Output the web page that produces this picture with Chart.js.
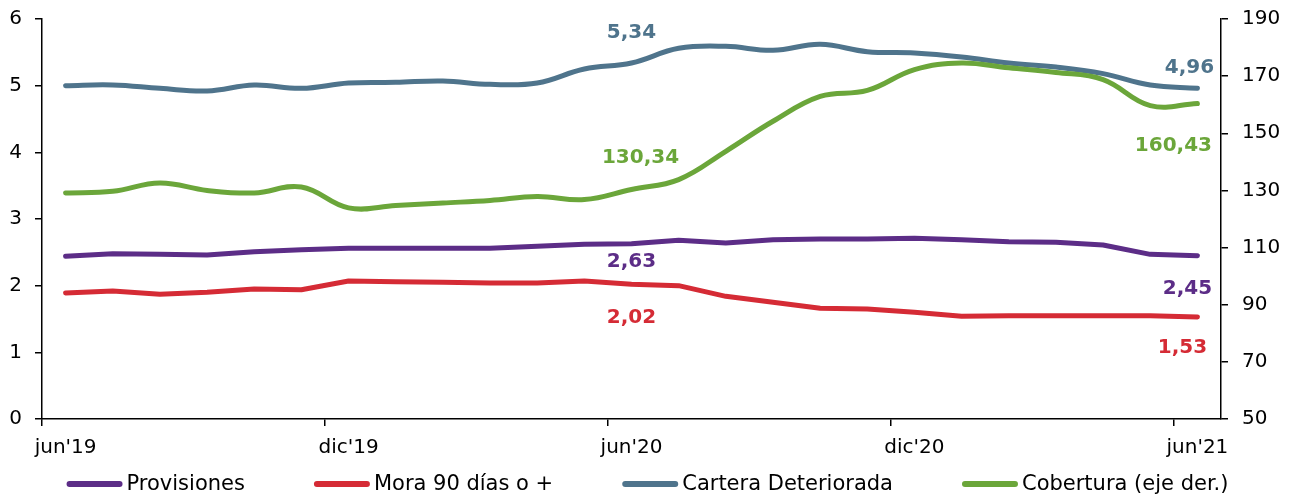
<!DOCTYPE html>
<html>
<head>
<meta charset="utf-8">
<title>Provisiones, mora, cartera deteriorada y cobertura</title>
<script src="https://cdn.jsdelivr.net/npm/chart.js@4.4.1/dist/chart.umd.min.js"></script>
<style>
  html, body { margin: 0; padding: 0; background: #fff; }
</style>
</head>
<body>
<canvas id="grafico" width="1298" height="497"></canvas>
<script>
// meses, jun'19 a jun'21
const meses = ["jun'19", "jul'19", "ago'19", "sep'19", "oct'19", "nov'19", "dic'19",
  "ene'20", "feb'20", "mar'20", "abr'20", "may'20", "jun'20", "jul'20", "ago'20",
  "sep'20", "oct'20", "nov'20", "dic'20", "ene'21", "feb'21", "mar'21", "abr'21",
  "may'21", "jun'21"];

// eje izquierdo (%)
const provisiones = [2.44, 2.48, 2.47, 2.46, 2.51, 2.54, 2.56, 2.56, 2.56, 2.56, 2.59, 2.62, 2.63,
  2.68, 2.64, 2.69, 2.70, 2.70, 2.71, 2.69, 2.66, 2.65, 2.61, 2.47, 2.45];
const mora90 = [1.89, 1.92, 1.87, 1.90, 1.95, 1.94, 2.07, 2.06, 2.05, 2.04, 2.04, 2.07, 2.02,
  2.00, 1.84, 1.75, 1.66, 1.65, 1.60, 1.54, 1.55, 1.55, 1.55, 1.55, 1.53];
const carteraDet = [5.00, 5.01, 4.96, 4.92, 5.01, 4.96, 5.04, 5.05, 5.07, 5.02, 5.04, 5.25, 5.34,
  5.56, 5.59, 5.53, 5.62, 5.51, 5.49, 5.43, 5.34, 5.28, 5.18, 5.01, 4.96];
// eje derecho (%)
const cobertura = [129.1, 129.7, 132.6, 130.0, 129.1, 131.2, 123.9, 124.7, 125.6, 126.5, 127.9, 126.8, 130.34,
  133.8, 143.7, 154.2, 162.9, 165.0, 172.3, 174.6, 172.9, 171.3, 168.8, 159.7, 160.43];

const ticksIzq = [0, 1, 2, 3, 4, 5, 6];
const ticksDer = [50, 70, 90, 110, 130, 150, 170, 190];

const fuente = 'DejaVu Sans, Verdana, sans-serif';
Chart.defaults.font.family = fuente;
Chart.defaults.font.size = 20;
Chart.defaults.color = '#000';

// etiquetas de valor: [serie, indice, dx, dy]
const etiquetas = [
  [0, 12, 0, 18], [0, 24, -10, 33],
  [1, 12, 0, 33], [1, 24, -15, 31],
  [2, 12, 0, -30], [2, 24, -8, -21],
  [3, 12, 9, -32], [3, 24, -24, 42]
];

const pluginEtiquetas = {
  id: 'etiquetas',
  afterDatasetsDraw(chart) {
    const ctx = chart.ctx;
    ctx.save();
    ctx.font = 'bold 20px ' + fuente;
    ctx.textAlign = 'center';
    ctx.textBaseline = 'middle';
    etiquetas.forEach(([s, i, dx, dy]) => {
      const ds = chart.data.datasets[s];
      const pt = chart.getDatasetMeta(s).data[i];
      ctx.fillStyle = ds.borderColor;
      ctx.fillText(ds.data[i].toFixed(2).replace('.', ','), pt.x + dx, pt.y + dy);
    });
    ctx.restore();
  }
};

// leyenda abajo, dibujada a mano para respetar el espaciado
const pluginLeyenda = {
  id: 'leyenda',
  afterDraw(chart) {
    const ctx = chart.ctx;
    const largo = 50, sep = 7, hueco = 72, y = 485;
    ctx.save();
    ctx.font = '21px ' + fuente;
    ctx.textBaseline = 'middle';
    const items = chart.data.datasets.map(ds => ({ ds, w: ctx.measureText(ds.label).width }));
    const total = items.reduce((a, it) => a + largo + sep + it.w, 0) + hueco * (items.length - 1);
    let x = chart.width / 2 - total / 2;
    items.forEach(({ ds, w }) => {
      ctx.strokeStyle = ds.borderColor;
      ctx.lineWidth = 6;
      ctx.lineCap = 'round';
      ctx.beginPath();
      ctx.moveTo(x, y - 1);
      ctx.lineTo(x + largo, y - 1);
      ctx.stroke();
      ctx.fillStyle = '#000';
      ctx.fillText(ds.label, x + largo + sep, y);
      x += largo + sep + w + hueco;
    });
    ctx.restore();
  }
};

const serie = (label, data, color, eje, tension, orden) => ({
  label, data, yAxisID: eje,
  borderColor: color, backgroundColor: color,
  borderWidth: 5, pointRadius: 0, tension,
  borderCapStyle: 'round', borderJoinStyle: 'round',
  order: orden
});

// ancho fijo de los ejes y sin el margen extra de las etiquetas
const fijarEje = ancho => s => { s.width = ancho; s.paddingTop = 0; s.paddingBottom = 0; };

new Chart(document.getElementById('grafico'), {
  type: 'line',
  data: {
    labels: meses,
    datasets: [
      serie('Provisiones', provisiones, '#5C2D87', 'y', 0, 4),
      serie('Mora 90 días o +', mora90, '#D52B35', 'y', 0, 3),
      serie('Cartera Deteriorada', carteraDet, '#4F748C', 'y', 0.4, 2),
      serie('Cobertura (eje der.)', cobertura, '#6BA63A', 'y1', 0.4, 1)
    ]
  },
  options: {
    responsive: false,
    animation: false,
    layout: { padding: { top: 19, bottom: 38, left: 0, right: 0 } },
    plugins: { legend: { display: false }, tooltip: { enabled: false } },
    scales: {
      x: {
        offset: true,
        afterFit: s => { s.height = 40; },
        grid: {
          offset: true,
          drawOnChartArea: false,
          tickLength: 7,
          lineWidth: 1.5,
          color: c => (c.index % 6 === 0 ? '#000' : 'rgba(0,0,0,0)')
        },
        border: { color: '#000', width: 1.5 },
        ticks: {
          autoSkip: false,
          maxRotation: 0,
          padding: 10,
          callback: function (v, i) { return i % 6 === 0 ? this.getLabelForValue(v) : ''; }
        }
      },
      y: {
        position: 'left',
        min: 0, max: 6,
        afterFit: fijarEje(42),
        afterBuildTicks: s => { s.ticks = ticksIzq.map(v => ({ value: v })); },
        grid: { drawOnChartArea: false, tickLength: 7, lineWidth: 1.5, color: '#000' },
        border: { color: '#000', width: 1.5 },
        ticks: { padding: 13 }
      },
      y1: {
        position: 'right',
        min: 50, max: 190,
        afterFit: fijarEje(77),
        afterBuildTicks: s => { s.ticks = ticksDer.map(v => ({ value: v })); },
        grid: { drawOnChartArea: false, tickLength: 7, lineWidth: 1.5, color: '#000' },
        border: { color: '#000', width: 1.5 },
        ticks: { padding: 14 }
      }
    }
  },
  plugins: [pluginEtiquetas, pluginLeyenda]
});
</script>
</body>
</html>
